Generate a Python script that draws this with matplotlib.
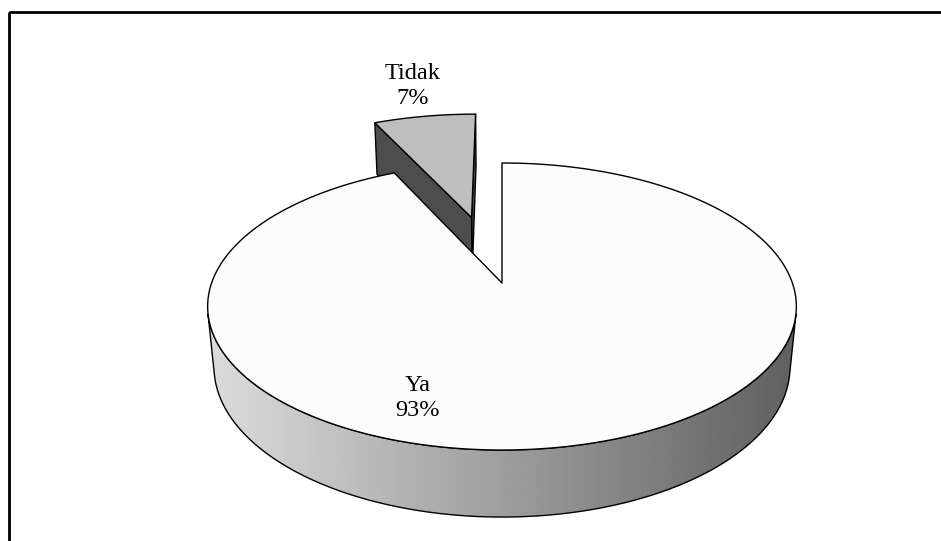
import numpy as np
import matplotlib.pyplot as plt
from matplotlib.patches import Polygon, Rectangle

plt.rcParams["font.family"] = ["Liberation Serif", "DejaVu Serif"]

# data
labels = ["Ya", "Tidak"]
values = [93, 7]
explode = [0.0, 0.52]
top_colors = ["#fcfcfc", "#bebebe"]
cut_color = "#4d4d4d"
label_pos = [(418, 398), (413, 86)]

# simple perspective camera for the 3d pie (pixel space)
phi = np.radians(28.75)
D = 5.355
F = 1555.0
cx, cy = 502.0, 283.0
H = 0.24
cam = np.array([0.0, -D * np.cos(phi), D * np.sin(phi)])


def proj(x, y, z):
    depth = y * np.cos(phi) - z * np.sin(phi) + D
    sx = cx + F * x / depth
    sy = cy - F * (y * np.sin(phi) + z * np.cos(phi)) / depth
    return np.column_stack([np.atleast_1d(sx), np.atleast_1d(sy)])


fig = plt.figure(figsize=(9.41, 5.41), dpi=100)
ax = fig.add_axes([0, 0, 1, 1])
ax.set_xlim(0, 941)
ax.set_ylim(541, 0)
ax.axis("off")

total = float(sum(values))
cum = np.concatenate([[0], np.cumsum(values)]) / total * 360.0
slices = []
for i in range(len(values)):
    t1 = 90.0 - cum[i + 1]
    t2 = 90.0 - cum[i]
    if t1 < 0:
        t1 += 360.0
        t2 += 360.0
    mid = np.radians((t1 + t2) / 2)
    off = explode[i] * np.array([np.cos(mid), np.sin(mid)])
    slices.append((i, np.radians(t1), np.radians(t2), off))

# far slices first
slices.sort(key=lambda s: -np.sin((s[1] + s[2]) / 2) - s[3][1])

lw = 1.0
for i, t1, t2, off in slices:
    ox, oy = off
    t = np.linspace(t1, t2, 400)
    rx, ry = ox + np.cos(t), oy + np.sin(t)

    # radial cut faces
    for ang, nang in [(t1, t1 - np.pi / 2), (t2, t2 + np.pi / 2)]:
        n = np.array([np.cos(nang), np.sin(nang), 0.0])
        p = np.array([ox, oy, 0.0])
        if np.dot(n, cam - p) > 1e-6:
            ex, ey = ox + np.cos(ang), oy + np.sin(ang)
            quad = np.vstack([proj(ox, oy, 0), proj(ex, ey, 0),
                              proj(ex, ey, -H), proj(ox, oy, -H)])
            ax.add_patch(Polygon(quad, closed=True, fc=cut_color, ec="black",
                                 lw=lw, joinstyle="round"))

    # outer side, only the part facing the camera
    vis = -(ox * np.cos(t) + oy * np.sin(t)) - 1 - D * np.cos(phi) * np.sin(t) > 0
    if vis.any():
        tv = t[vis]
        sx, sy = ox + np.cos(tv), oy + np.sin(tv)
        side = np.vstack([proj(sx, sy, 0), proj(sx, sy, -H)[::-1]])
        poly = Polygon(side, closed=True, fc="none", ec="black", lw=lw, zorder=3)
        x0, x1 = side[:, 0].min(), side[:, 0].max()
        y0, y1 = side[:, 1].min(), side[:, 1].max()
        grad = np.linspace(220, 96, 256)[None, :]
        im = ax.imshow(grad, extent=[x0, x1, y1, y0], cmap="gray", vmin=0,
                       vmax=255, aspect="auto", interpolation="bilinear",
                       zorder=2)
        ax.add_patch(poly)
        im.set_clip_path(poly)

    # top face
    top = np.vstack([proj(ox, oy, 0), proj(rx, ry, 0)])
    ax.add_patch(Polygon(top, closed=True, fc=top_colors[i], ec="black",
                         lw=lw, joinstyle="round", zorder=4))

for i in range(len(values)):
    x, y = label_pos[i]
    ax.text(x, y, "{}\n{}%".format(labels[i], values[i]), ha="center",
            va="center", fontsize=17.5, linespacing=1.25, zorder=6)

ax.add_patch(Rectangle((9, 12), 1200, 1200, fill=False, ec="black", lw=2.0,
                       zorder=7))

fig.savefig("out.png", dpi=100)
